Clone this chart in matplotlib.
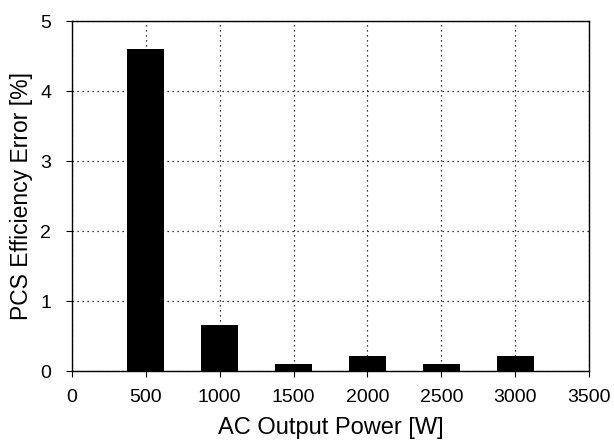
import numpy as np
import matplotlib.pyplot as plt

plt.rcParams['font.family'] = ['Liberation Sans', 'DejaVu Sans']

power = [500, 1000, 1500, 2000, 2500, 3000]
error = [4.6, 0.66, 0.1, 0.21, 0.1, 0.21]
xticks = [0, 500, 1000, 1500, 2000, 2500, 3000, 3500]
yticks = [0, 1, 2, 3, 4, 5]

fig = plt.figure(figsize=(6.14, 4.43), dpi=100)
ax = fig.add_axes([72 / 614, 72 / 443, 517 / 614, 350 / 443])

ax.bar(power, error, width=250, color='black', zorder=3)

ax.set_xlim(0, 3500)
ax.set_ylim(0, 5)
ax.set_xticks(xticks)
ax.set_yticks(yticks)
ax.grid(True, linestyle=(0, (1, 3)), color='black', linewidth=0.9)
ax.tick_params(direction='out', length=4, labelsize=14)
ax.tick_params(axis='x', pad=9)
ax.tick_params(axis='y', pad=11)
for s in ax.spines.values():
    s.set_linewidth(1.0)

ax.set_xlabel('AC Output Power [W]', fontsize=17, labelpad=8)
ax.set_ylabel('PCS Efficiency Error [%]', fontsize=16.5, labelpad=5)

fig.savefig('out.png', dpi=100)
